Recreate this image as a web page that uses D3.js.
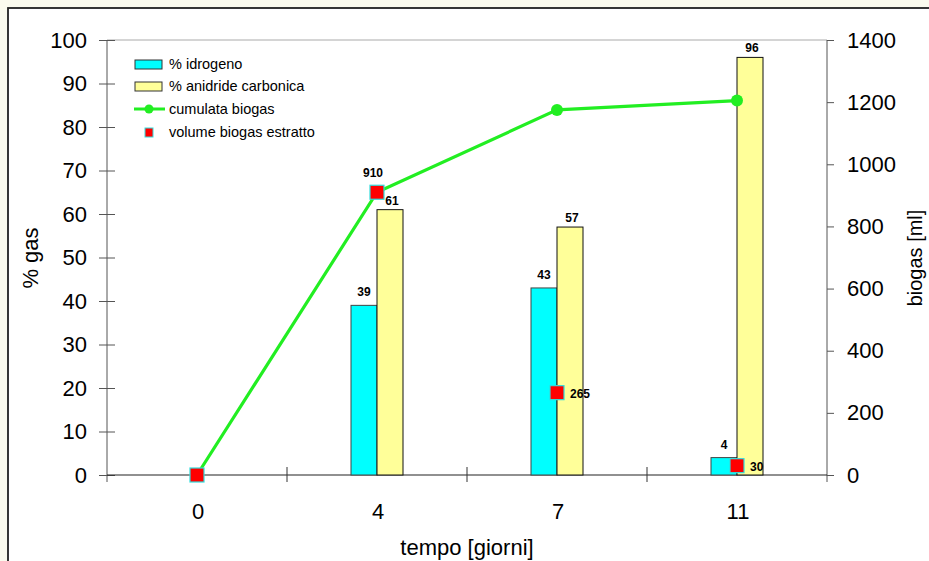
<!DOCTYPE html>
<html>
<head>
<meta charset="utf-8">
<script src="https://cdn.jsdelivr.net/npm/d3@7"></script>
<style>
  html, body { margin: 0; padding: 0; background: #fbfbee; }
  svg { display: block; font-family: "Liberation Sans", Arial, sans-serif; }
</style>
</head>
<body>
<svg id="chart" width="929" height="561"></svg>
<script>
// Giorni di prova
const days = ["0", "4", "7", "11"];
// Composizione del gas (%)
const hydrogen = [null, 39, 43, 4];
const carbonDioxide = [null, 61, 57, 96];
// Biogas estratto ad ogni prelievo e cumulato (ml)
const extracted = [0, 910, 265, 30];
const cumulative = [0, 910, 1175, 1205];
// Tacche degli assi
const pctTicks = [0, 10, 20, 30, 40, 50, 60, 70, 80, 90, 100];
const mlTicks = [0, 200, 400, 600, 800, 1000, 1200, 1400];
const legendItems = ["% idrogeno", "% anidride carbonica", "cumulata biogas", "volume biogas estratto"];

const svg = d3.select("#chart");
const plotL = 107, plotR = 827, plotT = 40, plotB = 475;
const FS = 22;

// cornice bianca
svg.append("rect").attr("x", 8).attr("y", 8).attr("width", 940).attr("height", 570)
  .attr("fill", "#fff").attr("stroke", "#222").attr("stroke-width", 1.8);

const x = d3.scaleBand().domain(days).range([plotL, plotR]);
const yPct = d3.scaleLinear().domain([0, 100]).range([plotB, plotT]);
const yMl = d3.scaleLinear().domain([0, 1400]).range([plotB, plotT]);

// bordo superiore dell'area del grafico
svg.append("line").attr("x1", plotL).attr("x2", plotR).attr("y1", plotT).attr("y2", plotT)
  .attr("stroke", "#aaa").attr("stroke-width", 1);

// asse sinistro
const gL = svg.append("g").attr("transform", `translate(${plotL},0)`)
  .call(d3.axisLeft(yPct).tickValues(pctTicks).tickSize(8).tickPadding(12));
gL.selectAll(".tick line").clone().attr("x2", 8);
gL.select(".domain").attr("d", `M0,${plotT}V${plotB + 7}`);
gL.selectAll("path, line").attr("stroke", "#555");
gL.selectAll("text").attr("font-size", FS).attr("fill", "#000")
  .attr("font-family", "Liberation Sans, Arial, sans-serif");

// asse destro
const gR = svg.append("g").attr("transform", `translate(${plotR},0)`)
  .call(d3.axisRight(yMl).tickValues(mlTicks).tickFormat(d3.format("d")).tickSize(7).tickPadding(13));
gR.select(".domain").attr("d", `M0,${plotT}V${plotB + 7}`);
gR.selectAll("path, line").attr("stroke", "#555");
gR.selectAll("text").attr("font-size", FS).attr("fill", "#000")
  .attr("font-family", "Liberation Sans, Arial, sans-serif");

// asse orizzontale
svg.append("line").attr("x1", plotL).attr("x2", plotR).attr("y1", plotB).attr("y2", plotB)
  .attr("stroke", "#222").attr("stroke-width", 1.2);
const sep = days.slice(1).map(d => x(d));
svg.selectAll("line.sep").data(sep).join("line").attr("class", "sep")
  .attr("x1", d => d).attr("x2", d => d).attr("y1", plotB - 8).attr("y2", plotB + 7)
  .attr("stroke", "#333");
svg.selectAll("text.xt").data(days).join("text").attr("class", "xt")
  .attr("x", d => x(d) + x.bandwidth() / 2 + 1).attr("y", plotB + 44)
  .attr("text-anchor", "middle").attr("font-size", FS).text(d => d);

// titoli degli assi
svg.append("text").attr("x", 467).attr("y", 555).attr("text-anchor", "middle")
  .attr("font-size", FS).text("tempo [giorni]");
svg.append("text").attr("transform", "translate(38,258) rotate(-90)")
  .attr("text-anchor", "middle").attr("font-size", FS).text("% gas");
svg.append("text").attr("transform", "translate(922,258) rotate(-90)")
  .attr("text-anchor", "middle").attr("font-size", FS - 2).text("biogas [ml]");

// barre
const bw = 26;
const cx = d => x(d) + x.bandwidth() / 2;
const h2 = days.map((d, i) => ({ d, v: hydrogen[i] })).filter(o => o.v != null);
const co2 = days.map((d, i) => ({ d, v: carbonDioxide[i] })).filter(o => o.v != null);
svg.selectAll("rect.h2").data(h2).join("rect").attr("class", "h2")
  .attr("x", o => cx(o.d) - bw).attr("y", o => yPct(o.v)).attr("width", bw)
  .attr("height", o => plotB - yPct(o.v)).attr("fill", "#00ffff").attr("stroke", "#444").attr("stroke-width", 1);
svg.selectAll("rect.co2").data(co2).join("rect").attr("class", "co2")
  .attr("x", o => cx(o.d)).attr("y", o => yPct(o.v)).attr("width", bw)
  .attr("height", o => plotB - yPct(o.v)).attr("fill", "#ffff99").attr("stroke", "#111").attr("stroke-width", 1);
svg.selectAll("text.h2l").data(h2).join("text").attr("class", "h2l")
  .attr("x", o => cx(o.d) - bw / 2).attr("y", o => yPct(o.v) - 9)
  .attr("text-anchor", "middle").attr("font-size", 12).attr("font-weight", "bold").text(o => o.v);
svg.selectAll("text.co2l").data(co2).join("text").attr("class", "co2l")
  .attr("x", o => cx(o.d) + bw / 2 + 2).attr("y", o => yPct(o.v) - 5)
  .attr("text-anchor", "middle").attr("font-size", 12).attr("font-weight", "bold").text(o => o.v);

// linea del biogas cumulato
const cum = days.map((d, i) => ({ d, v: cumulative[i] }));
svg.append("path").datum(cum)
  .attr("d", d3.line().x(o => cx(o.d)).y(o => yMl(o.v)))
  .attr("fill", "none").attr("stroke", "#22ee22").attr("stroke-width", 3.2);
svg.selectAll("circle.cum").data(cum).join("circle").attr("class", "cum")
  .attr("cx", o => cx(o.d)).attr("cy", o => yMl(o.v)).attr("r", 6).attr("fill", "#22ee22");

// volumi estratti
const ext = days.map((d, i) => ({ d, v: extracted[i], i }));
const sq = 14;
svg.selectAll("rect.ext").data(ext).join("rect").attr("class", "ext")
  .attr("x", o => cx(o.d) - sq / 2).attr("y", o => yMl(o.v) - sq / 2)
  .attr("width", sq).attr("height", sq).attr("fill", "#ff0000")
  .attr("stroke", "#33dddd").attr("stroke-width", 1.2);
svg.selectAll("text.extl").data(ext.filter(o => o.v > 0)).join("text").attr("class", "extl")
  .attr("x", o => o.i === 1 ? cx(o.d) - 4 : cx(o.d) + 13)
  .attr("y", o => o.i === 1 ? yMl(o.v) - 15 : yMl(o.v) + 5)
  .attr("text-anchor", o => o.i === 1 ? "middle" : "start")
  .attr("font-size", 12).attr("font-weight", "bold").text(o => o.v);

// legenda
const lg = svg.append("g");
const ly = [64, 86, 109, 132];
lg.append("rect").attr("x", 135).attr("y", ly[0] - 4).attr("width", 27).attr("height", 9)
  .attr("fill", "#00ffff").attr("stroke", "#333");
lg.append("rect").attr("x", 135).attr("y", ly[1] - 4).attr("width", 27).attr("height", 9)
  .attr("fill", "#ffff99").attr("stroke", "#333");
lg.append("line").attr("x1", 134).attr("x2", 165).attr("y1", ly[2]).attr("y2", ly[2])
  .attr("stroke", "#22ee22").attr("stroke-width", 3);
lg.append("circle").attr("cx", 149).attr("cy", ly[2]).attr("r", 4.5).attr("fill", "#22ee22");
lg.append("rect").attr("x", 145).attr("y", ly[3] - 4).attr("width", 8).attr("height", 9)
  .attr("fill", "#ff0000").attr("stroke", "#33dddd");
lg.selectAll("text").data(legendItems).join("text")
  .attr("x", 169).attr("y", (d, i) => ly[i] + 5).attr("font-size", 14.5).text(d => d);
</script>
</body>
</html>
